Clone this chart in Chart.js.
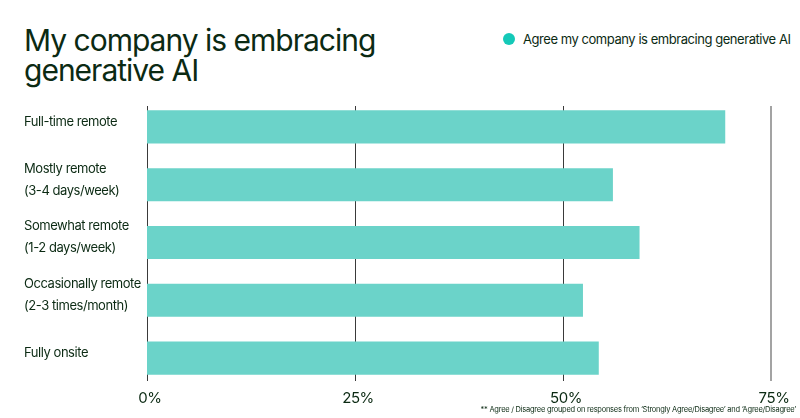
<!DOCTYPE html>
<html lang="en">
<head>
  <meta charset="UTF-8">
  <title>My company is embracing generative AI</title>
  <script src="https://cdn.jsdelivr.net/npm/chart.js"></script>
  <style>
    html, body { margin: 0; padding: 0; background: #fff; }
    body { width: 800px; height: 418px; position: relative; overflow: hidden; font-family: Inter, "Liberation Sans", sans-serif; color: #0b2a13; }
    .title { position: absolute; left: 24px; top: 25px; font-size: 30px; line-height: 30px; letter-spacing: -1px; margin: 0; font-weight: 400; }
    .legend { position: absolute; left: 503px; top: 31px; font-size: 13px; line-height: 16px; letter-spacing: -0.45px; display: flex; align-items: center; }
    .legend .dot { width: 12px; height: 12px; border-radius: 50%; background: #14c9b8; margin-right: 8px; }
    .note { position: absolute; right: 4px; top: 405px; font-size: 7.5px; letter-spacing: -0.25px; white-space: nowrap; }
    .wrap { position: absolute; left: 0; top: 0; width: 800px; height: 418px; }
  </style>
</head>
<body>
  <h1 class="title">My company is embracing<br>generative AI</h1>
  <div class="legend"><span class="dot"></span>Agree my company is embracing generative AI</div>
  <div class="wrap"><canvas id="chart"></canvas></div>
  <div class="note">** Agree / Disagree grouped on responses from ‘Strongly Agree/Disagree’ and ‘Agree/Disagree’</div>

  <script>
    // data
    const categories = [
      ['Full-time remote'],
      ['Mostly remote', '(3-4 days/week)'],
      ['Somewhat remote', '(1-2 days/week)'],
      ['Occasionally remote', '(2-3 times/month)'],
      ['Fully onsite']
    ];
    const agreeValues = [69.5, 56, 59.2, 52.4, 54.3];
    const xTicks = [0, 25, 50, 75];

    const textColor = '#0b2a13';

    // vertical grid lines, drawn a bit shorter than the chart area
    const gridLines = {
      id: 'gridLines',
      beforeDatasetsDraw(chart) {
        const { ctx, chartArea, scales } = chart;
        ctx.save();
        xTicks.forEach((t, i) => {
          const x = Math.round(scales.x.getPixelForValue(t));
          const last = i === xTicks.length - 1;
          ctx.strokeStyle = last ? '#a3a3a3' : '#3a3a3a';
          ctx.lineWidth = last ? 2 : 1;
          ctx.beginPath();
          ctx.moveTo(last ? x : x + 0.5, chartArea.top + 8);
          ctx.lineTo(last ? x : x + 0.5, chartArea.bottom - 6);
          ctx.stroke();
        });
        ctx.restore();
      }
    };

    // tighter letter spacing for canvas text
    const tightText = {
      id: 'tightText',
      beforeDraw(chart) { chart.ctx.letterSpacing = '-0.45px'; }
    };

    new Chart(document.getElementById('chart'), {
      type: 'bar',
      data: {
        labels: categories,
        datasets: [{
          label: 'Agree my company is embracing generative AI',
          data: agreeValues,
          backgroundColor: '#6bd3c9',
          borderWidth: 0,
          barPercentage: 1,
          categoryPercentage: 0.573
        }]
      },
      options: {
        indexAxis: 'y',
        responsive: true,
        maintainAspectRatio: false,
        animation: false,
        layout: { padding: { left: 24, right: 29, top: 98, bottom: 9 } },
        scales: {
          x: {
            min: 0,
            max: 75,
            afterBuildTicks(scale) { scale.ticks = xTicks.map(v => ({ value: v })); },
            grid: { display: false, drawTicks: false },
            border: { display: false },
            ticks: {
              color: textColor,
              font: { family: 'Inter', size: 15 },
              padding: 2,
              labelOffset: 3,
              maxRotation: 0,
              callback: v => v + '%'
            }
          },
          y: {
            afterFit(scale) { scale.width = 123; },
            grid: { display: false, drawTicks: false },
            border: { display: false },
            ticks: {
              color: textColor,
              crossAlign: 'far',
              font: { family: 'Inter', size: 13, lineHeight: '22px' },
              labelOffset: -5,
              padding: 0
            }
          }
        },
        plugins: {
          legend: { display: false },
          tooltip: { enabled: false }
        }
      },
      plugins: [gridLines, tightText]
    });
  </script>
</body>
</html>
